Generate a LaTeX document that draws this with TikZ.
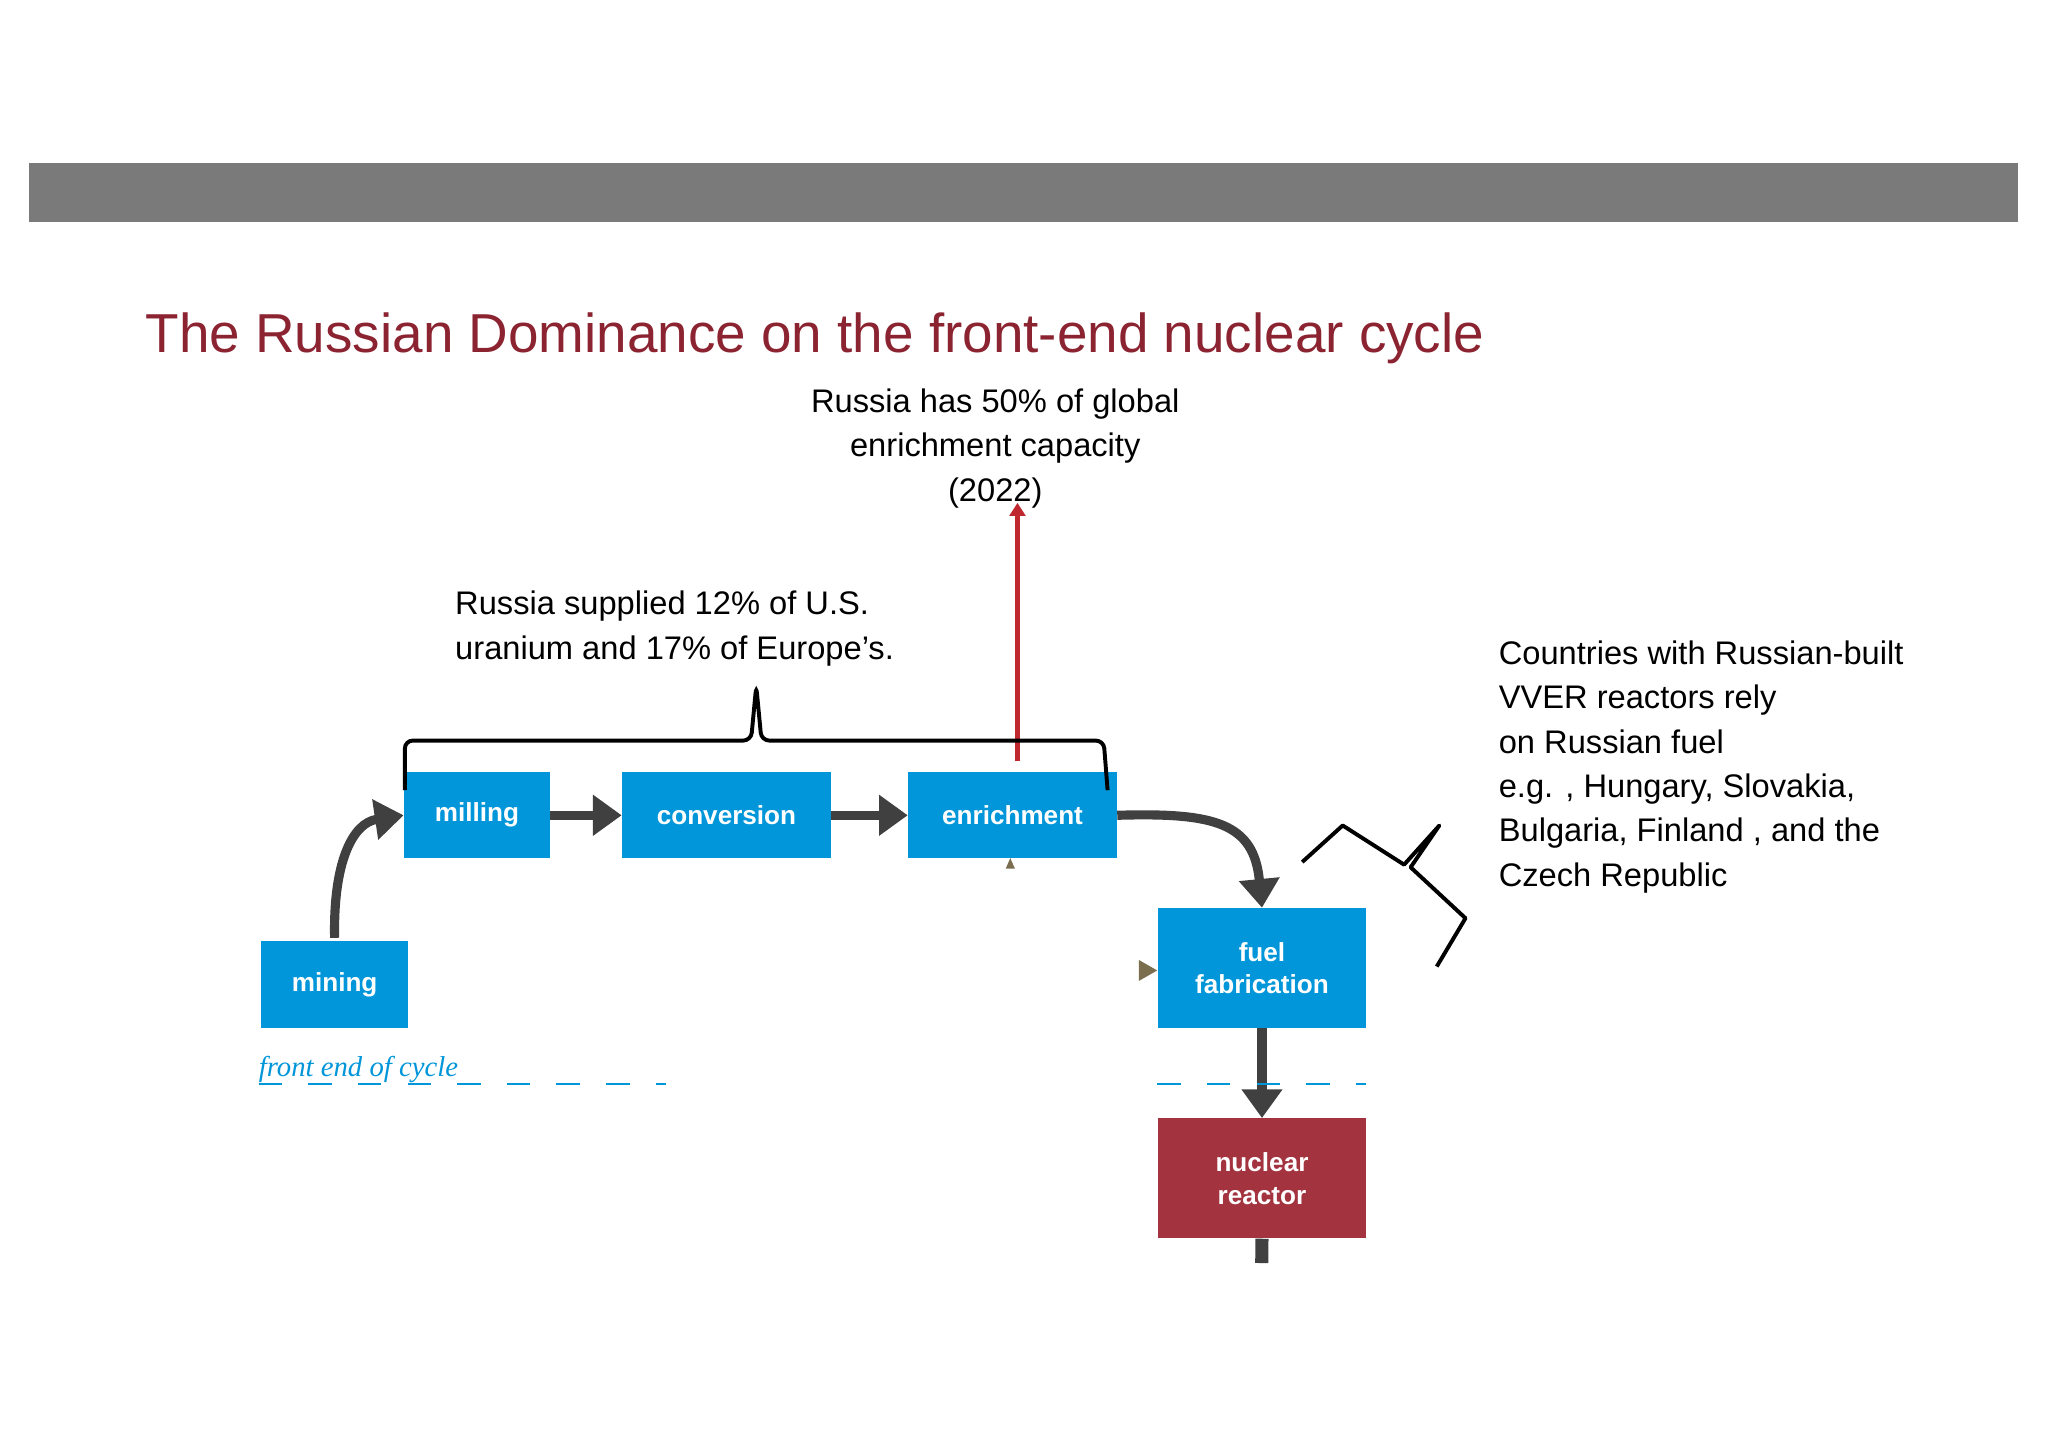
\documentclass[tikz,border=0pt]{standalone}
\usepackage{fontspec}
\setmainfont{Liberation Sans}
\usetikzlibrary{arrows.meta}
\definecolor{barg}{HTML}{7A7A7A}
\definecolor{ttl}{HTML}{8B2331}
\definecolor{bl}{HTML}{0096D9}
\definecolor{rd}{HTML}{A3333F}
\definecolor{arr}{HTML}{404040}
\definecolor{ol}{HTML}{7A6E4E}
\begin{document}
\begin{tikzpicture}[x=1pt,y=-1pt,
 box/.style={fill=bl,text=white,font=\bfseries\fontsize{20}{25}\selectfont,align=center,inner sep=0pt,anchor=north west},
 flow/.style={draw=arr,line width=7pt,-{Triangle[length=22pt,width=30pt]}},
 txt/.style={font=\fontsize{25}{34}\selectfont,text=black}]
\useasboundingbox (0,0) rectangle (1568,1108);
\fill[barg] (22,125) rectangle (1545,170);
\node[anchor=base west,text=ttl,font=\fontsize{42}{50}\selectfont] (title) at (108,270) {The Russian Dominance on the front-end nuclear cycle};
\node[txt,align=center,anchor=north] (t50) at (762,294) {Russia has 50\% of global\\enrichment capacity\\(2022)};
\node[txt,align=left,anchor=north west] (t12) at (345,449) {Russia supplied 12\% of U.S.\\uranium and 17\% of Europe's.};
\node[txt,align=left,anchor=north west] (tr) at (1144,487) {Countries with Russian-built\\VVER reactors rely\\on Russian fuel\\e.g. , Hungary, Slovakia,\\Bulgaria, Finland , and the\\Czech Republic};
\node[box,minimum width=112pt,minimum height=66pt] (mill) at (309,591) {milling};
\node[box,minimum width=160pt,minimum height=66pt] (conv) at (476,591) {conversion};
\node[box,minimum width=160pt,minimum height=66pt] (enr) at (695,591) {enrichment};
\node[box,minimum width=112pt,minimum height=67pt] (mine) at (200,720) {mining};
\node[box,minimum width=160pt,minimum height=92pt] (fuel) at (886,695) {fuel\\fabrication};
\node[box,fill=rd,minimum width=160pt,minimum height=92pt] (reac) at (886,856) {nuclear\\reactor};
\coordinate (stub) at (966,967);
\draw[flow] (mill) -- (conv);
\draw[flow] (conv) -- (enr);
\draw[flow] (mine.north) ++(0,-2) coordinate (m0) (m0) .. controls (255,660) and (270,630) .. (mill.west);
\draw[flow] (enr.east) .. controls (930,622) and (960,630) .. (fuel.north);
\draw[flow] (fuel) -- (reac);
\draw[arr,line width=10pt] (reac.south) -- (stub);
\coordinate (ra) at (779,583);
\draw[draw={rgb,255:red,192;green,40;blue,47},line width=4pt,-{Triangle[length=10pt,width=12pt]}] (ra) -- (779,385);
\draw[black,line width=3pt,rounded corners=6pt] (310,605) -- (310,567) -- (575,567) -- (579,525) -- (583,567) -- (845,567) -- (848,605);
\draw[black,line width=3pt,line join=round] (997,660) -- (1028,632) -- (1075,662) -- (1102,632) -- (1080,664) -- (1122,703) -- (1100,740);
\fill[ol] (770,665) -- (777,665) -- (773.5,657) -- cycle;
\fill[ol] (872,735) -- (886,743) -- (872,751) -- cycle;
\draw[bl,line width=1.5pt,dash pattern=on 18pt off 20pt] (198,830) -- (510,830);
\draw[bl,line width=1.5pt,dash pattern=on 18pt off 20pt] (886,830) -- (1046,830);
\node[anchor=base west,text=bl,font=\itshape\fontsize{22}{26}\selectfont\rmfamily\itshape,inner sep=0pt] (fe) at (198,824) {\fontspec{Liberation Serif}\itshape front end of cycle};
\end{tikzpicture}
\end{document}
